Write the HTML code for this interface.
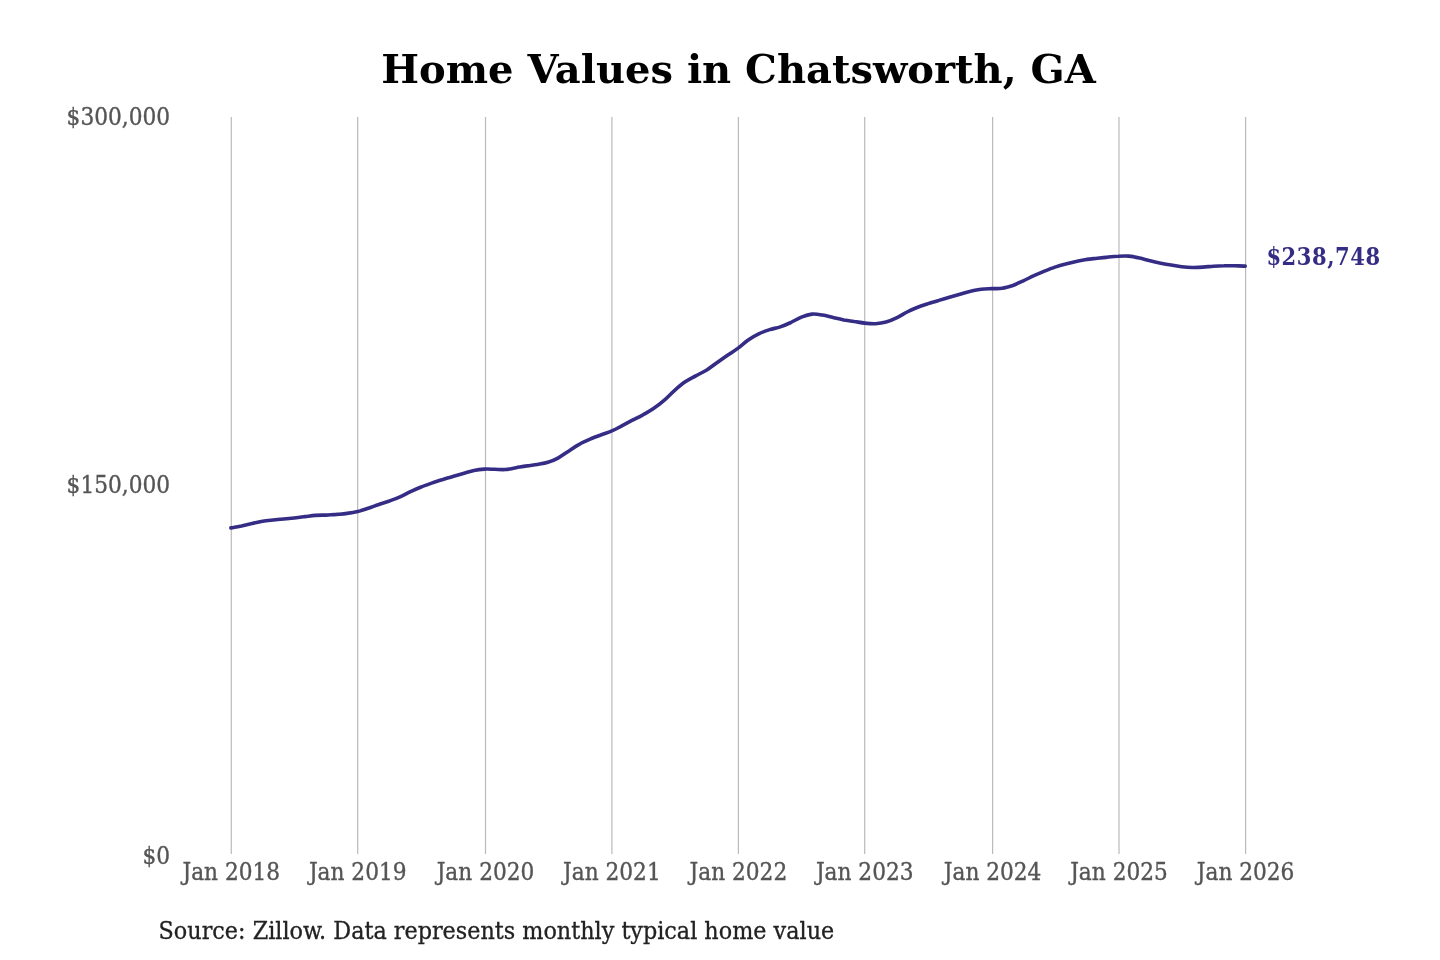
<!DOCTYPE html>
<html><head><meta charset="utf-8"><title>Home Values in Chatsworth, GA</title>
<style>
html,body{margin:0;padding:0;background:#fff;}
body{width:1440px;height:960px;overflow:hidden;}
svg{display:block;will-change:transform;}
.t{font-family:"DejaVu Serif",serif;font-weight:bold;font-size:40px;fill:#000;}
.ax{stroke:#555;stroke-width:0.35px;font-family:"DejaVu Serif Condensed","DejaVu Serif",serif;font-size:24.1px;fill:#555;font-stretch:condensed;}
.src{stroke:#222;stroke-width:0.3px;font-family:"DejaVu Serif Condensed","DejaVu Serif",serif;font-size:24.8px;fill:#222;font-stretch:condensed;}
.val{font-family:"DejaVu Serif Condensed","DejaVu Serif",serif;font-weight:bold;font-size:23.4px;letter-spacing:0.55px;fill:#352d85;font-stretch:condensed;}
</style></head><body>
<svg width="1440" height="960" viewBox="0 0 1440 960" xmlns="http://www.w3.org/2000/svg">
<rect width="1440" height="960" fill="#fff"/>
<text class="t" x="738.5" y="82.6" text-anchor="middle">Home Values in Chatsworth, GA</text>
<g stroke="#bababa" stroke-width="1.2">
<line x1="231.3" y1="117" x2="231.3" y2="854"/>
<line x1="357.7" y1="117" x2="357.7" y2="854"/>
<line x1="485.5" y1="117" x2="485.5" y2="854"/>
<line x1="611.9" y1="117" x2="611.9" y2="854"/>
<line x1="738.4" y1="117" x2="738.4" y2="854"/>
<line x1="864.7" y1="117" x2="864.7" y2="854"/>
<line x1="992.6" y1="117" x2="992.6" y2="854"/>
<line x1="1119.0" y1="117" x2="1119.0" y2="854"/>
<line x1="1245.6" y1="117" x2="1245.6" y2="854"/>
</g>
<g class="ax" text-anchor="end">
<text x="170" y="124.6">$300,000</text>
<text x="170" y="492.8">$150,000</text>
<text x="170" y="863.8">$0</text>
</g>
<g class="ax" text-anchor="middle">
<text x="231.3" y="879.8">Jan 2018</text>
<text x="357.7" y="879.8">Jan 2019</text>
<text x="485.5" y="879.8">Jan 2020</text>
<text x="611.9" y="879.8">Jan 2021</text>
<text x="738.4" y="879.8">Jan 2022</text>
<text x="864.7" y="879.8">Jan 2023</text>
<text x="992.6" y="879.8">Jan 2024</text>
<text x="1119.0" y="879.8">Jan 2025</text>
<text x="1245.6" y="879.8">Jan 2026</text>
</g>
<path d="M230.9,527.9 C232.7,527.6 237.9,526.6 241.5,525.9 C245.0,525.1 248.5,524.3 252.0,523.5 C255.6,522.8 259.1,521.9 262.6,521.3 C266.1,520.7 269.6,520.4 273.2,520.0 C276.7,519.6 280.2,519.3 283.7,519.0 C287.2,518.7 290.8,518.3 294.3,518.0 C297.8,517.6 301.3,517.1 304.9,516.6 C308.4,516.2 311.9,515.7 315.4,515.4 C318.9,515.1 322.5,515.2 326.0,515.1 C329.5,514.9 333.0,514.6 336.6,514.4 C340.1,514.1 343.6,513.9 347.1,513.4 C350.6,513.0 354.2,512.5 357.7,511.6 C361.2,510.8 364.7,509.5 368.3,508.3 C371.8,507.1 375.3,505.7 378.8,504.5 C382.3,503.3 385.9,502.2 389.4,501.0 C392.9,499.7 396.4,498.5 400.0,496.9 C403.5,495.4 407.0,493.4 410.5,491.7 C414.0,490.0 417.6,488.4 421.1,487.0 C424.6,485.5 428.1,484.3 431.6,483.1 C435.2,481.8 438.7,480.8 442.2,479.7 C445.7,478.6 449.3,477.6 452.8,476.5 C456.3,475.5 459.8,474.4 463.3,473.4 C466.9,472.4 470.4,471.2 473.9,470.4 C477.4,469.7 481.0,469.3 484.5,469.1 C488.0,468.9 491.5,469.2 495.0,469.3 C498.6,469.4 502.1,469.8 505.6,469.5 C509.1,469.3 512.6,468.3 516.2,467.7 C519.7,467.1 523.2,466.4 526.7,465.9 C530.3,465.3 533.8,465.0 537.3,464.4 C540.8,463.8 544.3,463.4 547.9,462.3 C551.4,461.2 554.9,459.7 558.4,457.8 C562.0,455.9 565.5,453.1 569.0,450.9 C572.5,448.6 576.0,446.1 579.6,444.2 C583.1,442.2 586.6,440.7 590.1,439.2 C593.7,437.6 597.2,436.3 600.7,435.0 C604.2,433.6 607.7,432.7 611.3,431.2 C614.8,429.7 618.3,427.7 621.8,425.9 C625.4,424.0 628.9,422.1 632.4,420.2 C635.9,418.4 639.4,416.7 643.0,414.8 C646.5,412.8 650.0,411.0 653.5,408.6 C657.0,406.2 660.6,403.4 664.1,400.4 C667.6,397.3 671.1,393.4 674.7,390.3 C678.2,387.2 681.7,384.2 685.2,381.8 C688.7,379.3 692.3,377.7 695.8,375.8 C699.3,373.9 702.8,372.4 706.4,370.2 C709.9,368.1 713.4,365.2 716.9,362.7 C720.4,360.3 724.0,357.8 727.5,355.3 C731.0,352.9 734.5,350.7 738.1,348.1 C741.6,345.5 745.1,342.1 748.6,339.7 C752.1,337.3 755.7,335.3 759.2,333.6 C762.7,331.9 766.2,330.7 769.7,329.6 C773.3,328.5 776.8,328.1 780.3,326.9 C783.8,325.7 787.4,324.1 790.9,322.5 C794.4,320.8 797.9,318.5 801.4,317.1 C805.0,315.7 808.5,314.5 812.0,314.1 C815.5,313.8 819.1,314.5 822.6,315.1 C826.1,315.7 829.6,316.8 833.1,317.6 C836.7,318.4 840.2,319.2 843.7,319.9 C847.2,320.5 850.8,320.9 854.3,321.5 C857.8,322.0 861.3,322.8 864.8,323.1 C868.4,323.5 871.9,323.8 875.4,323.7 C878.9,323.5 882.4,323.1 886.0,322.1 C889.5,321.1 893.0,319.6 896.5,317.9 C900.1,316.2 903.6,313.8 907.1,312.0 C910.6,310.3 914.1,308.7 917.7,307.3 C921.2,305.9 924.7,304.8 928.2,303.6 C931.8,302.4 935.3,301.4 938.8,300.4 C942.3,299.3 945.8,298.3 949.4,297.3 C952.9,296.3 956.4,295.3 959.9,294.3 C963.5,293.3 967.0,292.0 970.5,291.2 C974.0,290.3 977.5,289.8 981.1,289.3 C984.6,288.9 988.1,288.8 991.6,288.6 C995.1,288.5 998.7,288.9 1002.2,288.3 C1005.7,287.8 1009.2,286.7 1012.8,285.5 C1016.3,284.2 1019.8,282.4 1023.3,280.8 C1026.8,279.2 1030.4,277.3 1033.9,275.7 C1037.4,274.0 1040.9,272.6 1044.5,271.1 C1048.0,269.7 1051.5,268.3 1055.0,267.1 C1058.5,266.0 1062.1,265.0 1065.6,264.1 C1069.1,263.1 1072.6,262.2 1076.2,261.4 C1079.7,260.7 1083.2,260.0 1086.7,259.4 C1090.2,258.9 1093.8,258.6 1097.3,258.2 C1100.8,257.8 1104.3,257.4 1107.8,257.1 C1111.4,256.7 1114.9,256.3 1118.4,256.2 C1121.9,256.0 1125.5,255.8 1129.0,256.1 C1132.5,256.4 1136.0,257.2 1139.5,258.0 C1143.1,258.8 1146.6,260.0 1150.1,260.8 C1153.6,261.7 1157.2,262.5 1160.7,263.2 C1164.2,263.9 1167.7,264.5 1171.2,265.0 C1174.8,265.6 1178.3,266.3 1181.8,266.7 C1185.3,267.1 1188.9,267.4 1192.4,267.5 C1195.9,267.6 1199.4,267.4 1202.9,267.1 C1206.5,266.9 1210.0,266.4 1213.5,266.2 C1217.0,266.0 1220.5,265.8 1224.1,265.8 C1227.6,265.7 1231.1,265.8 1234.6,265.8 C1238.2,265.9 1243.4,266.0 1245.2,266.1" fill="none" stroke="#352d85" stroke-width="3.6" stroke-linejoin="round" stroke-linecap="round"/>
<text class="val" x="1266.4" y="264.6">$238,748</text>
<text class="src" x="158.6" y="938.6">Source: Zillow. Data represents monthly typical home value</text>
</svg>
</body></html>
